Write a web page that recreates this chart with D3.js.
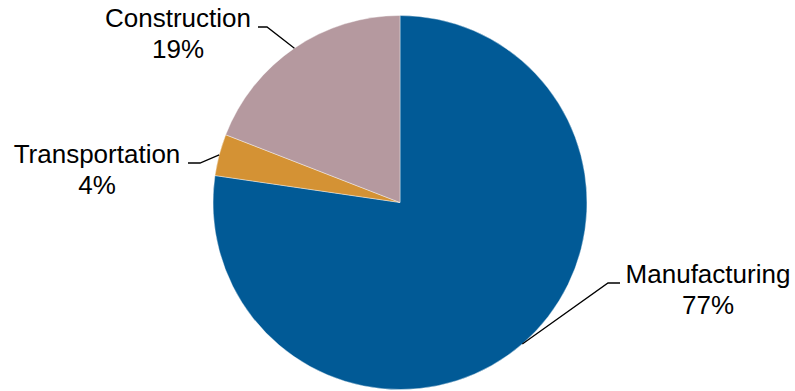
<!DOCTYPE html>
<html>
<head>
<meta charset="utf-8">
<script src="https://cdn.jsdelivr.net/npm/d3@7"></script>
<style>
  body { margin: 0; background: #fff; }
  text { font-family: "Liberation Sans", Arial, sans-serif; fill: #000; }
</style>
</head>
<body>
<div id="chart"></div>
<script>
// Data
const categories = ["Manufacturing", "Transportation", "Construction"];
const shares = [77.3, 3.6, 19.1];
const pctLabels = ["77%", "4%", "19%"];
const colors = ["#015a96", "#d49234", "#b5999f"];

// label placement (layout only): text centre, first baseline, elbow of leader line, end of leader line
const labelPos = [
  { x: 708, y: 283, elbow: [608, 283], end: [620, 283] },
  { x: 97,  y: 163, elbow: [200, 163], end: [188, 163] },
  { x: 178, y: 27,  elbow: [267, 27],  end: [258, 27] }
];

function createChart() {
  const width = 795, height = 391;
  const cx = 400, cy = 202.5, radius = 187;

  const svg = d3.select("#chart").append("svg")
    .attr("width", width)
    .attr("height", height);

  const g = svg.append("g")
    .attr("transform", `translate(${cx},${cy})`);

  const table = categories.map((c, i) => ({ name: c, value: shares[i], pct: pctLabels[i], color: colors[i], pos: labelPos[i] }));

  const pie = d3.pie()
    .value(d => d.value)
    .sort(null);

  const arc = d3.arc()
    .innerRadius(0)
    .outerRadius(radius);

  const arcs = pie(table);

  // slices
  g.selectAll("path.slice")
    .data(arcs)
    .enter().append("path")
    .attr("class", "slice")
    .attr("d", arc)
    .attr("fill", d => d.data.color)
    .attr("stroke", "#ffffff")
    .attr("stroke-width", 0.4);

  // leader lines
  svg.selectAll("polyline.leader")
    .data(arcs)
    .enter().append("polyline")
    .attr("class", "leader")
    .attr("fill", "none")
    .attr("stroke", "#000")
    .attr("stroke-width", 1.3)
    .attr("points", d => {
      const a = (d.startAngle + d.endAngle) / 2;
      const px = cx + radius * Math.sin(a);
      const py = cy - radius * Math.cos(a);
      const p = d.data.pos;
      return [[px, py], p.elbow, p.end].map(q => q.join(",")).join(" ");
    });

  // labels
  const labels = svg.selectAll("text.label")
    .data(arcs)
    .enter().append("text")
    .attr("class", "label")
    .attr("text-anchor", "middle")
    .attr("font-size", "26px");

  labels.append("tspan")
    .attr("x", d => d.data.pos.x)
    .attr("y", d => d.data.pos.y)
    .text(d => d.data.name);

  labels.append("tspan")
    .attr("x", d => d.data.pos.x)
    .attr("y", d => d.data.pos.y + 31)
    .text(d => d.data.pct);
}

createChart();
</script>
</body>
</html>
